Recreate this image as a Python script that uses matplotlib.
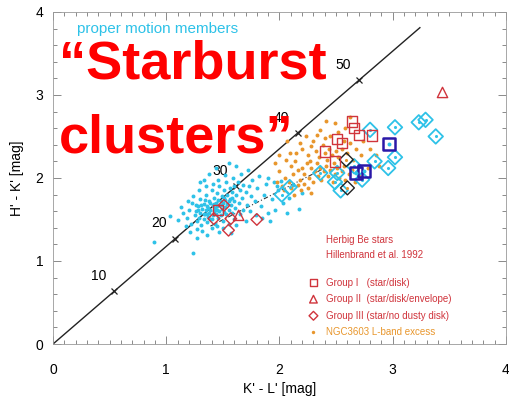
import numpy as np
import matplotlib
matplotlib.use('Agg')
import matplotlib.pyplot as plt
from matplotlib.ticker import MultipleLocator

# --- data ---
# reddening line, tick marks every 10 mag of A_V
av_marks = [10, 20, 30, 40, 50]
av_kl = [0.54, 1.08, 1.62, 2.16, 2.70]
av_hk = [0.635, 1.27, 1.905, 2.54, 3.175]
red_line_kl = [0.0, 3.24]
red_line_hk = [0.0, 3.81]

# dash-dot line through the excess sources
dd_kl = [1.39, 2.40]
dd_hk = [1.42, 2.12]

# proper motion members (cyan dots)
pm_kl = [0.89, 1.03, 1.24, 1.55, 1.33, 1.10, 1.15, 1.18, 1.20, 1.22, 1.23, 1.25, 1.26, 1.27,
         1.28, 1.29, 1.30, 1.30, 1.31, 1.32, 1.33, 1.33, 1.34, 1.35, 1.35, 1.36, 1.36, 1.37,
         1.38, 1.38, 1.39, 1.40, 1.40, 1.41, 1.41, 1.42, 1.42, 1.43, 1.43, 1.44, 1.44, 1.45,
         1.45, 1.46, 1.46, 1.47, 1.47, 1.48, 1.48, 1.49, 1.49, 1.50, 1.50, 1.51, 1.51, 1.52,
         1.52, 1.53, 1.53, 1.54, 1.54, 1.55, 1.56, 1.56, 1.57, 1.58, 1.58, 1.59, 1.60, 1.60,
         1.61, 1.62, 1.63, 1.64, 1.65, 1.66, 1.67, 1.68, 1.70, 1.71, 1.72, 1.73, 1.75, 1.76,
         1.78, 1.80, 1.82, 1.84, 1.86, 1.88, 1.90, 1.93, 1.96, 1.99, 2.03, 2.07, 2.12, 1.44,
         1.38, 1.62, 1.27, 1.32, 1.40, 1.36, 1.21, 1.17, 1.13, 1.24, 1.29, 1.19, 1.46, 1.52,
         1.41, 1.35, 1.30, 1.27, 1.45, 1.50, 1.55, 1.60, 1.65, 1.68, 1.74, 1.79, 1.85, 1.92,
         1.57, 1.47, 1.62, 1.70, 1.28, 1.34, 1.37, 1.39, 1.42, 1.45, 1.48, 1.51, 1.55, 1.58,
         1.36, 1.39, 1.33, 1.31, 1.26, 1.90, 1.98, 2.01, 2.08, 2.17, 2.20, 1.95]
pm_hk = [1.23, 1.54, 1.10, 2.18, 1.97, 1.49, 1.58, 1.52, 1.62, 1.45, 1.70, 1.55, 1.60, 1.48,
         1.66, 1.52, 1.58, 1.75, 1.43, 1.63, 1.50, 1.69, 1.56, 1.80, 1.61, 1.47, 1.66, 1.53,
         1.72, 1.58, 1.62, 1.50, 1.85, 1.68, 1.55, 1.76, 1.60, 1.64, 1.45, 1.70, 1.57, 1.82,
         1.66, 1.52, 1.73, 1.60, 1.90, 1.67, 1.55, 1.78, 1.63, 1.70, 1.48, 1.86, 1.59, 1.74,
         1.65, 1.95, 1.56, 1.80, 1.69, 1.62, 1.88, 1.75, 1.67, 1.83, 1.58, 2.00, 1.72, 1.90,
         1.64, 1.80, 1.95, 1.70, 1.86, 2.05, 1.76, 1.92, 1.83, 1.68, 2.10, 1.90, 1.78, 1.97,
         1.72, 1.88, 2.02, 1.66, 1.80, 1.93, 1.58, 1.75, 1.62, 1.85, 1.70, 1.58, 1.92, 2.12,
         2.05, 2.15, 1.38, 1.36, 1.40, 1.31, 1.35, 1.42, 1.65, 1.78, 1.86, 1.72, 1.97, 2.04,
         1.93, 1.90, 1.95, 1.28, 1.42, 1.40, 1.45, 1.50, 1.56, 1.62, 1.60, 1.55, 1.52, 1.48,
         1.34, 1.35, 1.43, 1.48, 1.62, 1.73, 1.64, 1.70, 1.69, 1.61, 1.72, 1.76, 1.72, 1.76,
         1.56, 1.51, 1.57, 1.67, 1.67, 2.00, 1.90, 1.96, 1.76, 1.63, 1.82, 1.95]

# NGC3603 L-band excess (orange dots)
lx_kl = [2.07, 2.41, 2.49, 2.36, 2.62, 2.58, 2.30, 2.45, 2.15, 2.20, 2.25, 2.28, 2.32, 2.35,
         2.38, 2.40, 2.42, 2.44, 2.46, 2.48, 2.50, 2.52, 2.55, 2.57, 2.60, 2.62, 2.65, 2.68,
         2.72, 2.74, 2.10, 2.12, 2.14, 2.16, 2.18, 2.20, 2.22, 2.24, 2.26, 2.28, 2.30, 2.31,
         2.33, 2.34, 2.36, 2.37, 2.39, 2.41, 2.43, 2.45, 2.47, 2.49, 2.51, 2.53, 2.55, 2.58,
         2.61, 2.64, 2.67, 2.70, 2.78, 2.85, 2.05, 2.02, 2.00, 1.98, 2.04, 2.08, 2.10, 2.13,
         2.16, 2.19, 2.22, 2.25, 2.28, 2.06, 2.09, 2.18, 2.23, 2.27, 2.40, 2.52, 2.57, 2.33,
         1.96, 2.00, 2.70, 2.80, 2.88]
lx_hk = [2.44, 2.68, 2.66, 2.58, 2.74, 2.60, 2.45, 2.50, 2.30, 2.35, 2.28, 2.38, 2.32, 2.25,
         2.40, 2.30, 2.22, 2.35, 2.28, 2.18, 2.32, 2.25, 2.35, 2.15, 2.30, 2.42, 2.22, 2.35,
         2.28, 2.45, 2.15, 2.05, 2.20, 2.10, 1.98, 2.12, 2.05, 2.18, 2.00, 2.12, 1.95, 2.08,
         2.18, 2.02, 2.12, 1.98, 2.08, 2.15, 2.02, 2.10, 1.95, 2.05, 2.12, 2.00, 2.08, 1.98,
         2.05, 2.10, 1.95, 2.02, 2.12, 2.28, 2.00, 1.90, 2.08, 1.95, 1.85, 1.95, 1.88, 1.80,
         1.92, 1.85, 1.93, 1.88, 1.82, 2.22, 2.30, 2.42, 2.50, 2.20, 2.48, 2.55, 2.45, 2.52,
         2.18, 2.28, 2.15, 2.35, 2.15]

# L-band excess sources with Herbig Be like colours (cyan diamonds)
cd_kl = [2.02, 2.09, 2.36, 2.49, 2.51, 2.54, 2.66, 2.73, 2.80, 2.84, 2.96, 3.02, 3.02, 3.23,
         3.29, 3.38]
cd_hk = [1.80, 1.89, 2.06, 1.95, 2.06, 1.85, 2.14, 1.98, 2.58, 2.20, 2.12, 2.25, 2.61, 2.67,
         2.70, 2.50]
bd_kl = [2.59, 2.60]          # black diamonds
bd_hk = [2.22, 1.88]
bs_kl = [2.68, 2.75, 2.97]    # dark blue squares
bs_hk = [2.06, 2.08, 2.41]

# Herbig Be stars, Hillenbrand et al. 1992
g1_kl = [2.64, 2.66, 2.70, 2.51, 2.55, 2.40, 2.49, 2.82, 1.46]
g1_hk = [2.68, 2.60, 2.52, 2.47, 2.42, 2.32, 2.20, 2.51, 1.61]
g2_kl = [3.44, 1.64]
g2_hk = [3.03, 1.55]
g3_kl = [1.51, 1.57, 1.55, 1.80, 1.42]
g3_hk = [1.67, 1.51, 1.37, 1.50, 1.51]

cyan = '#2ec2e8'
orange = '#e8962c'
red = '#d0343c'
font = 'Liberation Sans'

fig, ax = plt.subplots(figsize=(5.10, 3.97), dpi=100)
fig.subplots_adjust(left=0.104, right=0.992, bottom=0.1335, top=0.970)

ax.plot(red_line_kl, red_line_hk, color='#222222', lw=1.0, zorder=2)
ax.plot(av_kl, av_hk, ls='none', marker='x', ms=5, mew=0.9, color='#222222', zorder=2)
for a, x, y in zip(av_marks, av_kl, av_hk):
    ax.text(x - 0.14, y + 0.1, str(a), fontsize=10, ha='center', va='bottom',
            family=font, zorder=3)
ax.plot(dd_kl, dd_hk, color='#333333', lw=0.8, ls=(0, (4, 2, 1, 2)), zorder=2)

ax.scatter(pm_kl, pm_hk, s=8, color=cyan, lw=0, zorder=3)
ax.scatter(lx_kl, lx_hk, s=8, color=orange, lw=0, zorder=3)

ax.scatter(cd_kl, cd_hk, s=55, marker='D', facecolor='none', edgecolor=cyan, lw=1.3, zorder=4)
ax.scatter(cd_kl, cd_hk, s=5, color=cyan, lw=0, zorder=4)
ax.scatter(bd_kl, bd_hk, s=50, marker='D', facecolor='none', edgecolor='#222222', lw=1.0, zorder=4)
ax.scatter(bd_kl, bd_hk, s=5, color=orange, lw=0, zorder=4)
ax.scatter(bs_kl, bs_hk, s=75, marker='s', facecolor='none', edgecolor='#2a18a8', lw=1.8, zorder=5)
ax.scatter(bs_kl, bs_hk, s=8, color=cyan, lw=0, zorder=5)

ax.scatter(g1_kl, g1_hk, s=55, marker='s', facecolor='none', edgecolor=red, lw=1.0, zorder=5)
ax.scatter(g2_kl, g2_hk, s=55, marker='^', facecolor='none', edgecolor=red, lw=1.0, zorder=5)
ax.scatter(g3_kl, g3_hk, s=35, marker='D', facecolor='none', edgecolor=red, lw=1.0, zorder=5)

# legend block drawn by hand as in the original
ax.text(2.41, 1.22, 'Herbig Be stars', color=red, fontsize=7, family=font)
ax.text(2.41, 1.03, 'Hillenbrand et al. 1992', color=red, fontsize=7, family=font)
leg_rows = [('s', 'Group I   (star/disk)', red),
            ('^', 'Group II  (star/disk/envelope)', red),
            ('D', 'Group III (star/no dusty disk)', red),
            ('.', 'NGC3603 L-band excess', orange)]
for i, (m, lab, c) in enumerate(leg_rows):
    y = 0.74 - i * 0.2
    if m == '.':
        ax.scatter([2.30], [y], s=6, color=c, lw=0)
    else:
        ax.scatter([2.30], [y], s=30 if m != 'D' else 20, marker=m, facecolor='none',
                   edgecolor=c, lw=1.0)
    ax.text(2.41, y, lab, color=c, fontsize=7, va='center', family=font)

ax.text(0.21, 3.75, 'proper motion members', color=cyan, fontsize=11, family=font)

ax.set_xlim(0, 4)
ax.set_ylim(0, 4)
ax.xaxis.set_major_locator(MultipleLocator(1))
ax.xaxis.set_minor_locator(MultipleLocator(0.1))
ax.yaxis.set_major_locator(MultipleLocator(1))
ax.yaxis.set_minor_locator(MultipleLocator(0.2))
ax.tick_params(which='both', direction='in', top=True, right=True, color='#777777',
               labelsize=10, width=0.6)
ax.tick_params(axis='x', which='major', length=6, pad=14)
ax.tick_params(axis='y', which='major', length=6, pad=7)
ax.tick_params(which='minor', length=3)
for lbl in ax.get_xticklabels() + ax.get_yticklabels():
    lbl.set_family(font)
for s in ax.spines.values():
    s.set_color('#999999')
    s.set_linewidth(0.6)
ax.set_xlabel("K' - L' [mag]", fontsize=10, family=font, labelpad=3)
ax.set_ylabel("H' - K' [mag]", fontsize=10, family=font, labelpad=8)

# big red overlay caption
cap_font = ['Liberation Sans Narrow', 'Liberation Sans']
fig.text(0.115, 0.8035, '\u201cStarburst', color='#ff0000', fontsize=39, fontweight='bold',
         family=cap_font, va='baseline', zorder=10)
fig.text(0.115, 0.617, 'clusters\u201d', color='#ff0000', fontsize=39, fontweight='bold',
         family=cap_font, va='baseline', zorder=10)

fig.savefig('out.png', dpi=100)
